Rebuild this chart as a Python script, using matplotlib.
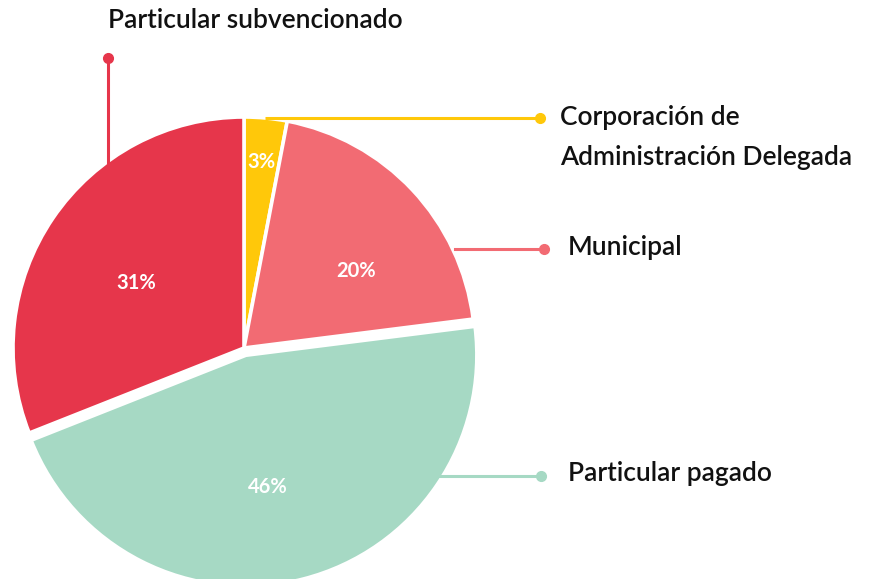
import matplotlib
matplotlib.use("Agg")
import matplotlib.pyplot as plt
import numpy as np

categories = ["Corporación de\nAdministración Delegada", "Municipal", "Particular pagado", "Particular subvencionado"]
values = [3, 20, 46, 31]
colors = ["#FFC80A", "#F26B73", "#A6D9C4", "#E6364B"]
explode_px = [0, 0, 7.5, 0]
pct_labels = ["3%", "20%", "46%", "31%"]
pct_dist = [0.81, 0.59, 0.58, 0.545]
pct_angle_shift = [0, 8.6, 5, -3]

W, H = 881, 579
fig = plt.figure(figsize=(W / 100, H / 100), dpi=100)
ax = fig.add_axes([0, 0, 1, 1])

cx, cy, R = 244, H - 348, 231
wedges, _ = ax.pie(values, colors=colors, startangle=90, counterclock=False,
                   center=(cx, cy), radius=R, explode=explode_px,
                   wedgeprops=dict(edgecolor="white", linewidth=2.6))
ax.set_xlim(0, W)
ax.set_ylim(0, H)
ax.set_aspect("equal")
ax.axis("off")

font = "Lato"
fw = "semibold"
fs = 19
tc = "#111111"
# percentage labels
cum = np.cumsum([0] + values[:-1])
for i, (v, c0) in enumerate(zip(values, cum)):
    mid = (c0 + v / 2) / sum(values) * 360
    th_mid = np.deg2rad(90 - mid)
    th = np.deg2rad(90 - mid - pct_angle_shift[i])
    ex = explode_px[i]
    x = cx + ex * np.cos(th_mid) + pct_dist[i] * R * np.cos(th)
    y = cy + ex * np.sin(th_mid) + pct_dist[i] * R * np.sin(th)
    ax.text(x, y, pct_labels[i], color="white", fontsize=14.5, fontweight="bold",
            family=font, ha="center", va="center")

# leader lines
lw = 2.2
# Corporación
ax.plot([265, 540], [H - 118, H - 118], color=colors[0], lw=lw, solid_capstyle="butt")
ax.plot([540], [H - 118], "o", color=colors[0], ms=7)
ax.text(560, H - 118, "Corporación de", fontsize=fs, family=font, fontweight=fw, va="center", ha="left", color=tc)
ax.text(560, H - 157, "Administración Delegada", fontsize=fs, family=font, fontweight=fw, va="center", ha="left", color=tc)
# Municipal
ax.plot([455, 544], [H - 249, H - 249], color=colors[1], lw=lw)
ax.plot([544], [H - 249], "o", color=colors[1], ms=7)
ax.text(568, H - 247, categories[1], fontsize=fs, family=font, fontweight=fw, va="center", ha="left", color=tc)
# Particular pagado
ax.plot([440, 541], [H - 476, H - 476], color=colors[2], lw=lw)
ax.plot([541], [H - 476], "o", color=colors[2], ms=7)
ax.text(568, H - 474, categories[2], fontsize=fs, family=font, fontweight=fw, va="center", ha="left", color=tc)
# Particular subvencionado
ax.plot([108, 108], [H - 58, H - 165], color=colors[3], lw=lw)
ax.plot([108], [H - 58], "o", color=colors[3], ms=7)
ax.text(108, H - 21, categories[3], fontsize=fs, family=font, fontweight=fw, va="center", ha="left", color=tc)

fig.savefig("out.png", dpi=100, facecolor="white")
